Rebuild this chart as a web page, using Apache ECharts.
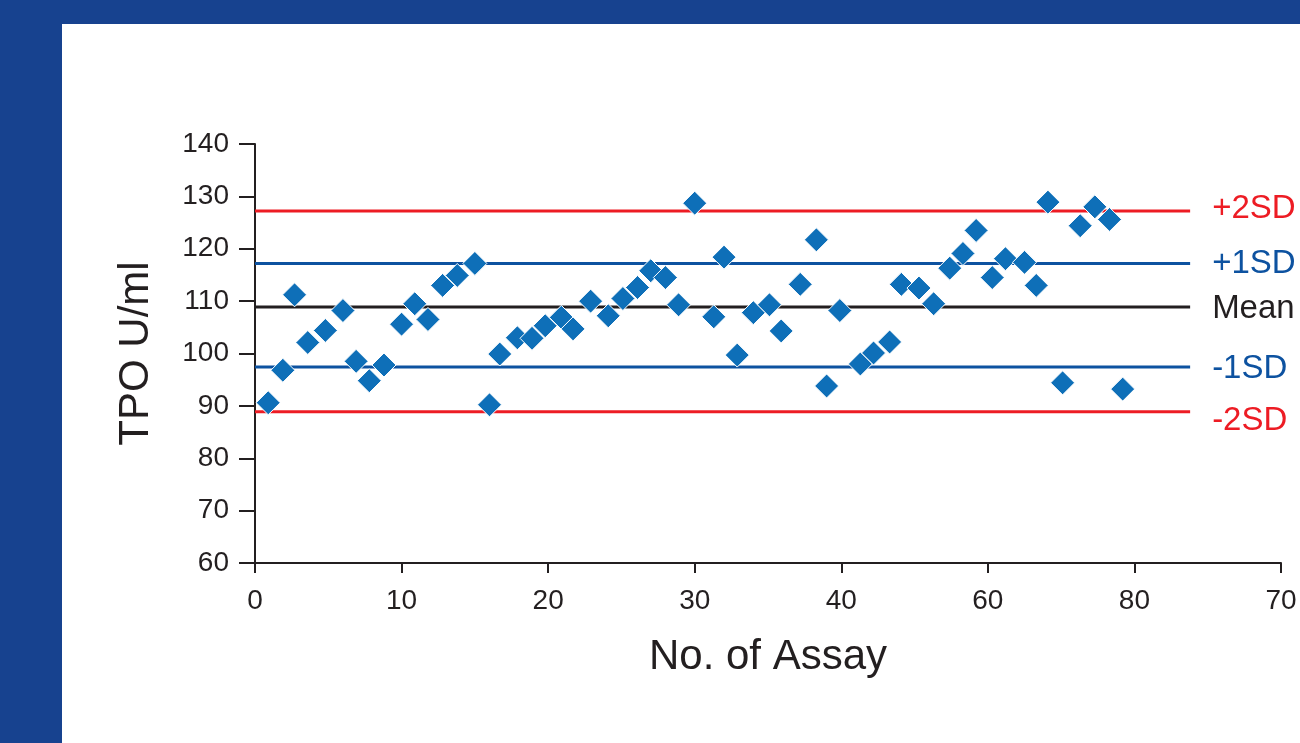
<!DOCTYPE html>
<html>
<head>
<meta charset="utf-8">
<script src="https://cdn.jsdelivr.net/npm/echarts@6/dist/echarts.min.js"></script>
<style>
    html, body { margin: 0; padding: 0; background: #17428f; }
    #frame {
        width: 1238px;
        height: 719px;
        margin-left: 62px;
        margin-top: 24px;
        background: #fff;
    }
    #chart { width: 1238px; height: 719px; }
</style>
</head>
<body>
<div id="frame"><div id="chart"></div></div>
<script>
// assay number (x) and TPO result (y)
const assayNo = [
    0.9, 1.9, 2.7, 3.6, 4.8, 6.0, 6.9, 7.8, 8.8, 10.0,
    10.9, 11.8, 12.8, 13.8, 15.0, 16.0, 16.7, 17.9, 18.9, 19.8,
    20.9, 21.7, 22.9, 24.1, 25.1, 26.1, 27.0, 28.0, 28.9, 30.0,
    31.3, 32.0, 32.9, 34.0, 35.1, 35.9, 37.2, 38.3, 39.0, 39.9,
    41.3, 42.2, 43.3, 44.1, 45.3, 46.3, 47.4, 48.3, 49.2, 50.3,
    51.2, 52.5, 53.3, 54.1, 55.1, 56.3, 57.3, 58.3, 59.2
]
const tpoValues = [
    90.6, 96.8, 111.2, 102.1, 104.4, 108.2, 98.5, 94.8, 97.8, 105.6,
    109.5, 106.5, 113.0, 114.9, 117.2, 90.2, 99.9, 103.0, 102.9, 105.3,
    106.9, 104.7, 110.0, 107.2, 110.5, 112.6, 115.8, 114.5, 109.3, 128.7,
    107.0, 118.4, 99.7, 107.8, 109.3, 104.3, 113.2, 121.7, 93.8, 108.2,
    98.0, 100.1, 102.2, 113.2, 112.5, 109.5, 116.3, 119.1, 123.5, 114.5,
    118.1, 117.4, 113.0, 128.9, 94.4, 124.4, 128.0, 125.6, 93.2
]

// control limits
const limitNames = ["+2SD", "+1SD", "Mean", "-1SD", "-2SD"]
const limitValues = [127.2, 117.2, 108.9, 97.4, 88.9]
const limitEnd = 63.8

// tick labels as printed on the x axis
const xTickLabels = ["0", "10", "20", "30", "40", "60", "80", "70"]

const limitColors = ["#ed1c24", "#0d52a0", "#231f20", "#0d52a0", "#ed1c24"]
const labelNudge = [-2, 0, 2, 2, 9]

const font = "'Liberation Sans', Arial, sans-serif"
const ink = "#231f20"

const limitSeries = limitNames.map(function (name, i) {
    return {
        name: name,
        type: "line",
        z: 1,
        symbol: "none",
        lineStyle: { color: limitColors[i], width: 3 },
        data: [[0, limitValues[i]], [limitEnd, limitValues[i]]],
        endLabel: {
            show: true,
            formatter: name,
            color: limitColors[i],
            fontSize: 33,
            fontFamily: font,
            distance: 22,
            offset: [0, labelNudge[i]]
        }
    }
})

const option = {
    animation: false,
    grid: { left: 193, right: 19, top: 120, bottom: 180 },
    xAxis: {
        type: "value",
        min: 0,
        max: 70,
        interval: 10,
        name: "No. of Assay",
        nameLocation: "middle",
        nameGap: 73,
        nameTextStyle: { fontSize: 42, color: ink, fontFamily: font },
        axisLine: { lineStyle: { color: ink, width: 2 } },
        axisTick: { length: 10, lineStyle: { color: ink, width: 2 } },
        axisLabel: {
            margin: 24,
            fontSize: 28,
            color: ink,
            fontFamily: font,
            formatter: function (val) {
                return xTickLabels[Math.round(val / 10)]
            }
        },
        splitLine: { show: false }
    },
    yAxis: {
        type: "value",
        min: 60,
        max: 140,
        interval: 10,
        name: "TPO U/ml",
        nameLocation: "middle",
        nameRotate: 90,
        nameGap: 98,
        nameTextStyle: { fontSize: 42, color: ink, fontFamily: font },
        axisLine: { show: true, lineStyle: { color: ink, width: 2 } },
        axisTick: { show: true, length: 16, lineStyle: { color: ink, width: 2 } },
        axisLabel: { margin: 26, fontSize: 28, color: ink, fontFamily: font },
        splitLine: { show: false }
    },
    series: limitSeries.concat([
        {
            name: "TPO",
            type: "scatter",
            z: 3,
            symbol: "diamond",
            symbolSize: 24,
            itemStyle: { color: "#0e6fb8", borderColor: "#fff", borderWidth: 1, opacity: 1 },
            data: assayNo.map(function (x, i) { return [x, tpoValues[i]] })
        }
    ])
}

const chart = echarts.init(document.getElementById("chart"))
chart.setOption(option)
window.onresize = function () {
    chart.resize()
}
</script>
</body>
</html>
